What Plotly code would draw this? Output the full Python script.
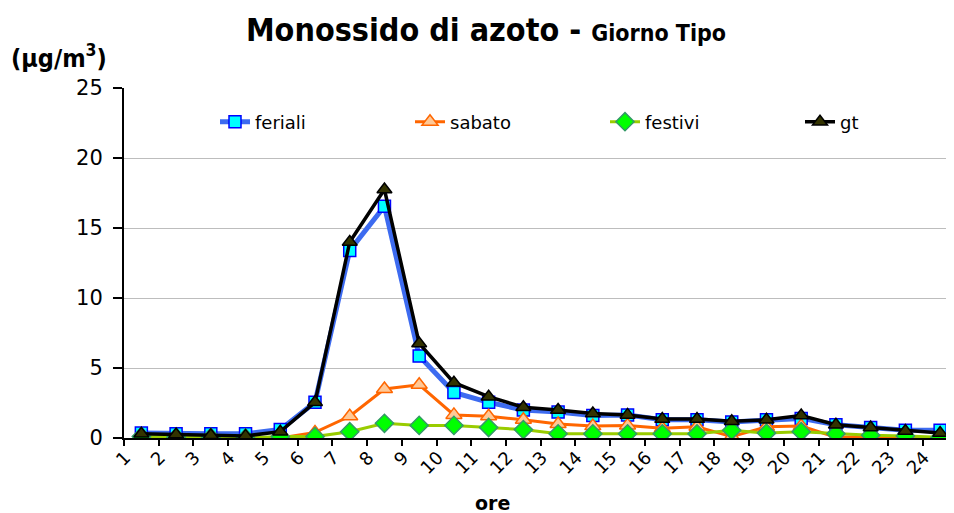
import plotly.graph_objects as go

hours = list(range(1, 25))
hour_labels = [str(h) for h in hours]

feriali = [0.35, 0.3, 0.3, 0.3, 0.6, 2.55, 13.4, 16.55, 5.85, 3.25, 2.55, 2.0,
           1.85, 1.6, 1.65, 1.3, 1.3, 1.15, 1.3, 1.4, 0.95, 0.75, 0.55, 0.55]
sabato = [0.0, 0.0, 0.0, 0.0, 0.0, 0.4, 1.55, 3.5, 3.8, 1.65, 1.55, 1.3,
          1.0, 0.85, 0.9, 0.7, 0.8, 0.1, 0.8, 0.85, 0.05, 0.1, 0.05, 0.0]
festivi = [0.1, 0.05, 0.05, 0.0, 0.1, 0.1, 0.45, 1.05, 0.9, 0.9, 0.75, 0.6,
           0.3, 0.3, 0.3, 0.3, 0.3, 0.55, 0.35, 0.45, 0.3, 0.2, 0.15, 0.05]
gt = [0.3, 0.25, 0.2, 0.15, 0.45, 2.55, 14.0, 17.75, 6.75, 3.95, 2.95, 2.2,
      2.0, 1.75, 1.65, 1.35, 1.35, 1.2, 1.3, 1.6, 0.95, 0.75, 0.5, 0.35]

FONT = "DejaVu Sans"
COND = "DejaVu Sans Condensed"

# page body adds an 8px offset; targets below are in window pixels
OFF = 8
W, H = 954, 513
L, T = 124 - OFF, 88 - OFF
R = OFF
PW, PH = W - L - R, 350
B = H - T - PH


def px_x(px):
    return (px - OFF - L) / PW


def px_y(py):
    return 1 - (py - OFF - T) / PH


fig = go.Figure()
fig.add_trace(go.Scatter(
    x=hours, y=feriali, name="feriali", mode="lines+markers",
    line=dict(color="#3D6BF0", width=5),
    marker=dict(symbol="square", size=12, color="#00FFFF",
                line=dict(color="#0000FF", width=1.5))))
fig.add_trace(go.Scatter(
    x=hours, y=sabato, name="sabato", mode="lines+markers",
    line=dict(color="#FF6600", width=3),
    marker=dict(symbol="triangle-up", size=14, color="#FFC896",
                line=dict(color="#FF6600", width=1.5))))
fig.add_trace(go.Scatter(
    x=hours, y=festivi, name="festivi", mode="lines+markers",
    line=dict(color="#99CC00", width=3),
    marker=dict(symbol="diamond", size=14, color="#00FF00",
                line=dict(color="#339966", width=1.5))))
fig.add_trace(go.Scatter(
    x=hours, y=gt, name="gt", mode="lines+markers",
    line=dict(color="#000000", width=3.5),
    marker=dict(symbol="triangle-up", size=13, color="#333300",
                line=dict(color="#000000", width=1.5))))

fig.update_layout(
    width=W, height=H,
    margin=dict(l=L, r=R, t=T, b=B, autoexpand=False),
    paper_bgcolor="white", plot_bgcolor="white",
    font=dict(family=FONT, color="black"),
    showlegend=True,
    legend=dict(orientation="h", x=px_x(215), xanchor="left",
                y=px_y(122), yanchor="middle",
                entrywidth=150, entrywidthmode="pixels",
                font=dict(family=FONT, size=18), bgcolor="rgba(0,0,0,0)",
                itemsizing="trace"),
    title=dict(text="<b>Monossido di azoto - <span style='font-size:23px'>Giorno Tipo</span></b>",
               x=(486 - OFF) / W, xref="container", xanchor="center",
               y=1 - (30 - OFF) / H, yref="container", yanchor="middle",
               font=dict(family=COND, size=32)),
    xaxis=dict(range=[0.5, 24.4], tickmode="array", tickvals=hours, ticktext=hour_labels,
               tickangle=-45, ticks="", showgrid=False, zeroline=False,
               showline=True, linecolor="black", linewidth=2, automargin=False,
               ticklabelshift=-16,
               tickfont=dict(family=FONT, size=18),
               minor=dict(ticks="outside", tickmode="linear", tick0=0.5, dtick=1,
                          ticklen=6, tickcolor="black", tickwidth=1.5, showgrid=False)),
    yaxis=dict(range=[0, 25], tickmode="array", tickvals=[0, 5, 10, 15, 20, 25],
               ticks="outside", ticklen=9, tickcolor="black", tickwidth=1.5,
               ticklabelstandoff=6,
               showgrid=True, gridcolor="#BDBDBD", gridwidth=1, zeroline=False,
               showline=True, linecolor="black", linewidth=2, automargin=False,
               tickfont=dict(family=FONT, size=21)),
)

fig.add_annotation(text="<b>(µg/m<sup>3</sup>)</b>", xref="paper", yref="paper",
                   x=px_x(9), y=px_y(56), xanchor="left", yanchor="middle",
                   showarrow=False, font=dict(family=COND, size=25))
fig.add_annotation(text="<b>ore</b>", xref="paper", yref="paper",
                   x=px_x(492), y=px_y(503), xanchor="center", yanchor="middle",
                   showarrow=False, font=dict(family=FONT, size=19))

fig.write_html("out.html")
